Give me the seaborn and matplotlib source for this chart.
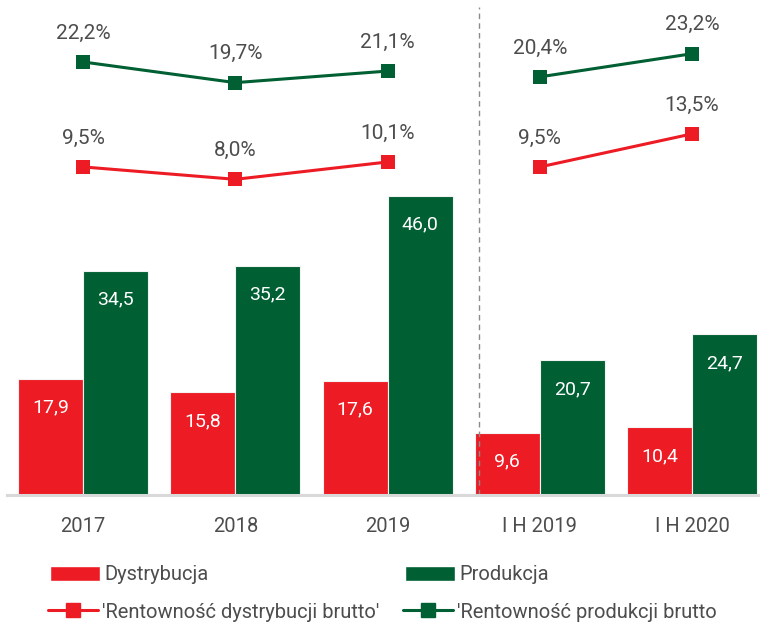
import numpy as np
import pandas as pd
import matplotlib
matplotlib.use('Agg')
import matplotlib.pyplot as plt
import seaborn as sns
from matplotlib.patches import Patch
from matplotlib.lines import Line2D

# Data
categories = ['2017', '2018', '2019', 'I H 2019', 'I H 2020']
dystrybucja = [17.9, 15.8, 17.6, 9.6, 10.4]
produkcja = [34.5, 35.2, 46.0, 20.7, 24.7]
rent_dystrybucji = [9.5, 8.0, 10.1, 9.5, 13.5]
rent_produkcji = [22.2, 19.7, 21.1, 20.4, 23.2]
segments = [[0, 1, 2], [3, 4]]

RED = '#ED1C24'
GREEN = '#005F33'
TXT = '#4d4d4d'

sns.set_theme(style='white')
plt.rcParams['font.family'] = ['Roboto', 'DejaVu Sans']

df = pd.DataFrame({
    'kategoria': categories * 2,
    'wartosc': dystrybucja + produkcja,
    'seria': ['Dystrybucja'] * 5 + ['Produkcja'] * 5,
})

fig = plt.figure(figsize=(7.6, 6.25), dpi=100)
ax = fig.add_axes([0.0092, 0.208, 0.9908, 0.792])

sns.barplot(data=df, x='kategoria', y='wartosc', hue='seria', order=categories,
            palette={'Dystrybucja': RED, 'Produkcja': GREEN}, width=0.855, saturation=1,
            edgecolor='#f2f2f2', linewidth=0.8, legend=False, ax=ax)

ax.set_xlim(-0.5, 4.446)
ax.set_ylim(0, 76.15)
ax.set_xlabel('')
ax.set_ylabel('')
ax.set_yticks([])
for s in ['top', 'right', 'left']:
    ax.spines[s].set_visible(False)
ax.spines['bottom'].set_color('#d9d9d9')
ax.spines['bottom'].set_linewidth(2.2)
ax.tick_params(axis='x', length=0, pad=16, labelsize=14.5, labelcolor=TXT)

# value labels inside bars
for cont in ax.containers:
    for bar in cont:
        h = bar.get_height()
        ax.text(bar.get_x() + bar.get_width() / 2, h - 4.4, f'{h:.1f}'.replace('.', ','),
                ha='center', va='center', color='white', fontsize=14)

# dashed separator
ax.axvline(2.6, ymin=0, ymax=0.985, color='#8c8c8c', linestyle=(0, (4, 3)), linewidth=1)

# profitability lines on secondary axis
ax2 = ax.twinx()
ax2.set_ylim(-30.2, 29.7)
ax2.set_xlim(ax.get_xlim())
ax2.set_yticks([])
for s in ['top', 'right', 'left', 'bottom']:
    ax2.spines[s].set_visible(False)

for vals, col in [(rent_dystrybucji, RED), (rent_produkcji, GREEN)]:
    for seg in segments:
        seg_df = pd.DataFrame({'x': seg, 'y': [vals[i] for i in seg]})
        sns.lineplot(data=seg_df, x='x', y='y', color=col, linewidth=2.2,
                     marker='s', markersize=10, markeredgewidth=0, ax=ax2)
    for i, v in enumerate(vals):
        ax2.text(i, v + 3.5, f'{v:.1f}%'.replace('.', ','), ha='center', va='center',
                 color=TXT, fontsize=15)
ax2.set_xlabel('')
ax2.set_ylabel('')

# legend, one entry per box so each sits where it does in the reference
leg_items = [
    (Patch(facecolor=RED, label='Dystrybucja'), 50, 575),
    (Patch(facecolor=GREEN, label='Produkcja'), 405, 575),
    (Line2D([], [], color=RED, lw=2.2, marker='s', markersize=10,
            label="'Rentowność dystrybucji brutto'"), 48, 612),
    (Line2D([], [], color=GREEN, lw=2.2, marker='s', markersize=10,
            label="'Rentowność produkcji brutto"), 403, 612),
]
for h, px, py in leg_items:
    leg = fig.legend(handles=[h], loc='center left', bbox_to_anchor=(px / 760, 1 - py / 625),
                     frameon=False, fontsize=14.5, handlelength=2.5, handleheight=0.75,
                     handletextpad=0.2, borderpad=0, borderaxespad=0, labelcolor=TXT)

fig.savefig('out.png', dpi=100)
